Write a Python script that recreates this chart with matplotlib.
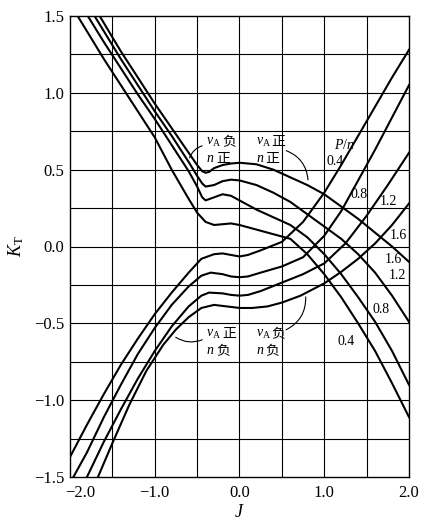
import matplotlib
matplotlib.use("Agg")
import matplotlib.pyplot as plt
import matplotlib.transforms as mtransforms
from matplotlib.patches import FancyArrowPatch

plt.rcParams['mathtext.fontset'] = 'custom'
plt.rcParams['mathtext.rm'] = 'Liberation Serif'
plt.rcParams['mathtext.it'] = 'Liberation Serif:italic'
plt.rcParams['font.family'] = ['Liberation Serif', 'Noto Sans CJK SC']

# ---- data: descending family (labelled lower right) ----
D16_J = [-1.65,-1.4,-1.2,-1.0,-0.8,-0.6,-0.5,-0.44,-0.40,-0.36,-0.3,-0.2,-0.1,0.0,0.2,0.4,0.6,0.8,1.0,1.2,1.4,1.6,1.8,2.0]
D16_K = [1.5,1.27,1.10,0.93,0.77,0.61,0.53,0.49,0.48,0.485,0.51,0.53,0.54,0.545,0.535,0.50,0.45,0.40,0.34,0.26,0.18,0.09,0.0,-0.10]
D12_J = [-1.71,-1.4,-1.2,-1.0,-0.8,-0.6,-0.5,-0.44,-0.40,-0.3,-0.2,-0.1,0.0,0.2,0.4,0.6,0.8,1.0,1.2,1.4,1.6,1.8,2.0]
D12_K = [1.5,1.22,1.05,0.88,0.72,0.55,0.46,0.41,0.39,0.40,0.425,0.435,0.43,0.40,0.35,0.29,0.21,0.13,0.05,-0.05,-0.17,-0.32,-0.49]
D08_J = [-1.79,-1.6,-1.4,-1.2,-1.0,-0.8,-0.6,-0.5,-0.44,-0.4,-0.3,-0.2,-0.1,0.0,0.2,0.4,0.6,0.8,1.0,1.2,1.4,1.6,1.8,2.0]
D08_K = [1.5,1.33,1.16,0.99,0.83,0.66,0.49,0.39,0.32,0.30,0.32,0.34,0.33,0.30,0.24,0.19,0.14,0.06,-0.05,-0.18,-0.33,-0.49,-0.68,-0.90]
D04_J = [-1.91,-1.6,-1.4,-1.2,-1.0,-0.8,-0.6,-0.5,-0.4,-0.3,-0.2,-0.1,0.0,0.2,0.4,0.6,0.8,1.0,1.2,1.4,1.6,1.8,2.0]
D04_K = [1.5,1.22,1.05,0.88,0.71,0.50,0.31,0.22,0.16,0.14,0.145,0.15,0.14,0.11,0.08,0.05,-0.05,-0.18,-0.33,-0.50,-0.68,-0.89,-1.11]

# ---- data: ascending family (labelled upper right) ----
A04_J = [-2.0,-1.8,-1.6,-1.4,-1.2,-1.0,-0.8,-0.6,-0.45,-0.3,-0.2,-0.1,0.0,0.1,0.25,0.5,0.75,1.0,1.2,1.4,1.6,1.8,2.0]
A04_K = [-1.37,-1.16,-0.96,-0.77,-0.60,-0.44,-0.30,-0.17,-0.08,-0.05,-0.045,-0.055,-0.065,-0.055,-0.025,0.03,0.16,0.35,0.53,0.72,0.91,1.10,1.28]
A08_J = [-1.96,-1.8,-1.6,-1.4,-1.2,-1.0,-0.8,-0.6,-0.45,-0.34,-0.2,-0.1,0.0,0.1,0.25,0.5,0.75,1.0,1.2,1.4,1.6,1.8,2.0]
A08_K = [-1.5,-1.34,-1.11,-0.90,-0.70,-0.53,-0.38,-0.26,-0.19,-0.17,-0.18,-0.195,-0.20,-0.195,-0.17,-0.13,-0.07,0.07,0.23,0.43,0.63,0.84,1.05]
A12_J = [-1.80,-1.6,-1.4,-1.2,-1.0,-0.8,-0.6,-0.45,-0.36,-0.2,-0.1,0.0,0.1,0.25,0.5,0.75,1.0,1.25,1.5,1.75,2.0]
A12_K = [-1.5,-1.27,-1.06,-0.86,-0.68,-0.52,-0.39,-0.32,-0.30,-0.305,-0.315,-0.32,-0.315,-0.29,-0.235,-0.18,-0.11,0.02,0.20,0.40,0.61]
A16_J = [-1.67,-1.5,-1.3,-1.1,-0.9,-0.75,-0.6,-0.45,-0.3,-0.15,0.0,0.15,0.33,0.5,0.72,1.0,1.2,1.4,1.6,1.8,2.0]
A16_K = [-1.5,-1.28,-1.03,-0.81,-0.64,-0.54,-0.46,-0.40,-0.38,-0.39,-0.40,-0.40,-0.39,-0.365,-0.32,-0.24,-0.165,-0.08,0.02,0.14,0.28]

x_ticks = [-2.0, -1.0, 0.0, 1.0, 2.0]
x_tick_labels = ['\u22122.0', '\u22121.0', '0.0', '1.0', '2.0']
y_ticks = [-1.5, -1.0, -0.5, 0.0, 0.5, 1.0, 1.5]
y_tick_labels = ['\u22121.5', '\u22121.0', '\u22120.5', '0.0', '0.5', '1.0', '1.5']

W, H = 431, 523
fig = plt.figure(figsize=(W/100, H/100), dpi=100)
ax = fig.add_axes([70/W, 46/H, 339/W, 461/H])
ax.set_xlim(-2.0, 2.0)
ax.set_ylim(-1.5, 1.5)

# grid
for gx in [-1.5, -1.0, -0.5, 0.0, 0.5, 1.0, 1.5]:
    ax.axvline(gx, color='black', lw=0.8, zorder=1)
for gy in [-1.25, -1.0, -0.75, -0.5, -0.25, 0.0, 0.25, 0.5, 0.75, 1.0, 1.25]:
    ax.axhline(gy, color='black', lw=0.8, zorder=1)

for J, K in [(D16_J, D16_K), (D12_J, D12_K), (D08_J, D08_K), (D04_J, D04_K),
             (A04_J, A04_K), (A08_J, A08_K), (A12_J, A12_K), (A16_J, A16_K)]:
    ax.plot(J, K, color='black', lw=1.5, solid_joinstyle='round', zorder=3, clip_on=True)

for s in ax.spines.values():
    s.set_linewidth(1.0)
    s.set_color('black')

ax.set_xticks(x_ticks)
ax.set_xticklabels(x_tick_labels)
ax.set_yticks(y_ticks)
ax.set_yticklabels(y_tick_labels)
ax.tick_params(length=0, labelsize=12, pad=4)
ax.tick_params(axis='x', pad=6)
lab0 = ax.get_xticklabels()[0]
lab0.set_transform(lab0.get_transform() + mtransforms.ScaledTranslation(10/100, 0, fig.dpi_scale_trans))

ax.set_xlabel(r'$J$', fontsize=13, labelpad=2)
ax.set_ylabel(r'$K_{\rm T}$', fontsize=13, labelpad=6)

fs = 10
cjk = ['Noto Sans CJK SC']
def quad(x, y, t1, t2):
    ax.text(x, y, r'$v_{\rm A}$', fontsize=fs, ha='left', va='center')
    ax.text(x + 0.19, y, t1, fontsize=fs, family=cjk, ha='left', va='center')
    ax.text(x, y - 0.11, r'$n$', fontsize=fs, ha='left', va='center')
    ax.text(x + 0.11, y - 0.11, t2, fontsize=fs, family=cjk, ha='left', va='center')

quad(-0.39, 0.68, '负', '正')
quad(0.19, 0.68, '正', '正')
quad(-0.39, -0.57, '正', '负')
quad(0.19, -0.57, '负', '负')

def leader(p0, p1, rad):
    ax.add_patch(FancyArrowPatch(p0, p1, arrowstyle='-', connectionstyle=f'arc3,rad={rad}',
                                 lw=0.8, color='black', zorder=4))
leader((-0.41, 0.66), (-0.60, 0.56), 0.3)
leader((0.52, 0.63), (0.81, 0.415), -0.35)
leader((-0.41, -0.60), (-0.78, -0.58), -0.3)
leader((0.52, -0.55), (0.78, -0.31), 0.35)

ax.text(1.24, 0.66, r'$P/n$', fontsize=fs, ha='center', va='center')
ax.text(1.13, 0.55, '0.4', fontsize=fs, ha='center', va='center')
ax.text(1.41, 0.34, '0.8', fontsize=fs, ha='center', va='center')
ax.text(1.76, 0.29, '1.2', fontsize=fs, ha='center', va='center')
ax.text(1.87, 0.07, '1.6', fontsize=fs, ha='center', va='center')
ax.text(1.82, -0.085, '1.6', fontsize=fs, ha='center', va='center')
ax.text(1.86, -0.19, '1.2', fontsize=fs, ha='center', va='center')
ax.text(1.67, -0.41, '0.8', fontsize=fs, ha='center', va='center')
ax.text(1.26, -0.62, '0.4', fontsize=fs, ha='center', va='center')

fig.savefig('out.png', dpi=100)
